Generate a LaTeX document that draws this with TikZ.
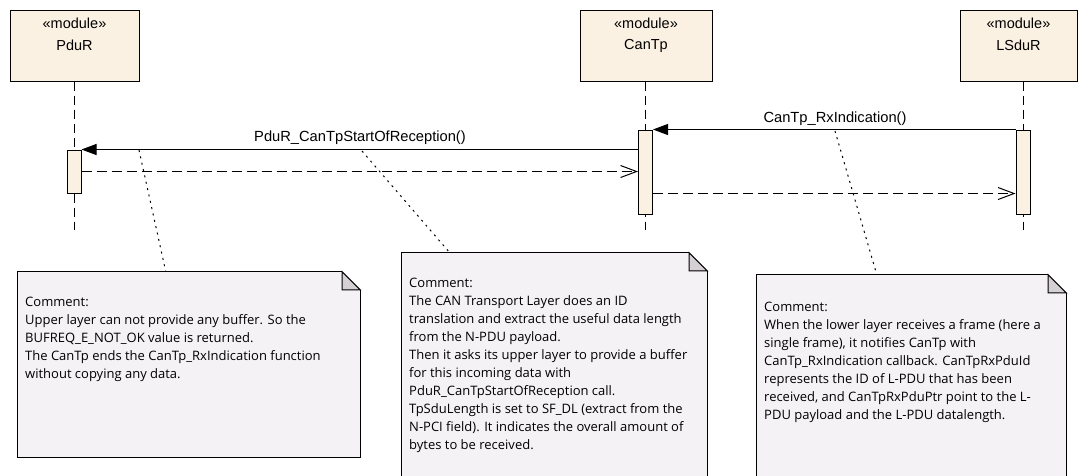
\documentclass[tikz,border=0pt]{standalone}
\usepackage{fontspec}
\setmainfont{Liberation Sans}
\newfontfamily\notefont{Open Sans}
\usetikzlibrary{arrows.meta,calc}
\definecolor{modfill}{RGB}{251,241,227}
\definecolor{notefill}{RGB}{245,242,245}
\definecolor{foldfill}{RGB}{212,208,212}
\tikzset{
  modbox/.style={draw=black,line width=1pt,fill=modfill,minimum width=#1,minimum height=71pt,inner sep=0pt},
  modlabel/.style={font=\fontsize{14.5}{16}\selectfont,inner sep=0pt},
  actbox/.style={draw=black,line width=1pt,fill=modfill,minimum width=14pt,minimum height=#1,inner sep=0pt},
  lifeline/.style={line width=1pt,dash pattern=on 9pt off 5pt},
  callmsg/.style={line width=1pt,-{Triangle[length=15pt,width=11pt]}},
  retmsg/.style={line width=1pt,dash pattern=on 10pt off 5pt,-{Straight Barb[length=16pt,width=12pt]}},
  msglabel/.style={font=\fontsize{14.7}{16}\selectfont,inner sep=0pt},
  notelink/.style={line width=1pt,dash pattern=on 2pt off 4.5pt},
  noteline/.style={line width=1pt},
  notearea/.style={minimum width=#1,inner sep=0pt},
  notetext/.style={font=\notefont\fontsize{13}{18}\selectfont,align=left,inner sep=0pt,anchor=north west}
}
\begin{document}
\begin{tikzpicture}[x=1pt,y=-1pt]
\useasboundingbox (0,0) rectangle (1078,475);
\fill[white] (0,0) rectangle (1078,475);
\clip (0,0) rectangle (1078,475);

% modules
\node[modbox=129pt] (pdur) at (74.5,45.5) {};
\node[modbox=132pt] (cantp) at (646,45.5) {};
\node[modbox=117pt] (lsdur) at (1018.5,45.5) {};
\node[modlabel] (pdurS) at (74.5,23.5) {«module»};
\node[modlabel] (pdurN) at (74.5,45.7) {PduR};
\node[modlabel] (cantpS) at (646,23.5) {«module»};
\node[modlabel] (cantpN) at (646,45.7) {CanTp};
\node[modlabel] (lsdurS) at (1018.5,23.5) {«module»};
\node[modlabel] (lsdurN) at (1018.5,45.7) {LSduR};

% lifeline ends
\coordinate (pdurE) at (74,230);
\coordinate (cantpE) at (645,230);
\coordinate (lsdurE) at (1023,230);
\draw[lifeline] (pdur.south -| pdurE) -- (pdurE);
\draw[lifeline] (cantp.south -| cantpE) -- (cantpE);
\draw[lifeline] (lsdur.south -| lsdurE) -- (lsdurE);

% activations
\node[actbox=43pt] (actP) at (74,171.5) {};
\node[actbox=84pt] (actC) at (645.5,172) {};
\node[actbox=84pt] (actL) at (1023,172) {};

% messages
\draw[callmsg] (actC.west |- actP.north) -- (actP.north east);
\node[msglabel] (m1) at (360,137.5) {PduR\_CanTpStartOfReception()};
\draw[retmsg] (actP.east) -- (actC.west |- actP.east);
\draw[callmsg] (actL.north west) -- (actC.north east);
\node[msglabel] (m2) at (835,118.5) {CanTp\_RxIndication()};
\draw[retmsg] (actC.east |- actP.south) -- (actL.west |- actP.south);

% notes
\node[notearea=342pt,minimum height=185pt] (n1) at (189,364.5) {};
\node[notearea=305pt,minimum height=240pt] (n2) at (554.5,373) {};
\node[notearea=309pt,minimum height=220pt] (n3) at (911.5,385) {};

\fill[notefill] (n1.north west) -- ($(n1.north east)+(-18,0)$) -- ($(n1.north east)+(0,18)$) -- (n1.south east) -- (n1.south west) -- cycle;
\draw[noteline] ($(n1.north east)+(-18,0)$) -- (n1.north west) -- (n1.south west) -- (n1.south east) -- ($(n1.north east)+(0,18)$);
\filldraw[noteline,fill=foldfill] ($(n1.north east)+(-18,0)$) -- ($(n1.north east)+(0,18)$) -- ($(n1.north east)+(-18,18)$) -- cycle;

\fill[notefill] (n2.north west) -- ($(n2.north east)+(-18,0)$) -- ($(n2.north east)+(0,18)$) -- (n2.south east) -- (n2.south west) -- cycle;
\draw[noteline] ($(n2.north east)+(-18,0)$) -- (n2.north west) -- (n2.south west) -- (n2.south east) -- ($(n2.north east)+(0,18)$);
\filldraw[noteline,fill=foldfill] ($(n2.north east)+(-18,0)$) -- ($(n2.north east)+(0,18)$) -- ($(n2.north east)+(-18,18)$) -- cycle;

\fill[notefill] (n3.north west) -- ($(n3.north east)+(-18,0)$) -- ($(n3.north east)+(0,18)$) -- (n3.south east) -- (n3.south west) -- cycle;
\draw[noteline] ($(n3.north east)+(-18,0)$) -- (n3.north west) -- (n3.south west) -- (n3.south east) -- ($(n3.north east)+(0,18)$);
\filldraw[noteline,fill=foldfill] ($(n3.north east)+(-18,0)$) -- ($(n3.north east)+(0,18)$) -- ($(n3.north east)+(-18,18)$) -- cycle;

\node[notetext] (t1) at (25,297) {Comment:\\Upper layer can not provide any buffer. So the\\BUFREQ\_E\_NOT\_OK value is returned.\\The CanTp ends the CanTp\_RxIndication function\\without copying any data.};
\node[notetext] (t2) at (409,278) {Comment:\\The CAN Transport Layer does an ID\\translation and extract the useful data length\\from the N-PDU payload.\\Then it asks its upper layer to provide a buffer\\for this incoming data with\\PduR\_CanTpStartOfReception call.\\TpSduLength is set to SF\_DL (extract from the\\N-PCI field). It indicates the overall amount of\\bytes to be received.};
\node[notetext] (t3) at (764,302) {Comment:\\When the lower layer receives a frame (here a\\single frame), it notifies CanTp with\\CanTp\_RxIndication callback. CanTpRxPduId\\represents the ID of L-PDU that has been\\received, and CanTpRxPduPtr point to the L-\\PDU payload and the L-PDU datalength.};

% note links
\coordinate (l1) at (139,150);
\coordinate (l2) at (362,151);
\coordinate (l3) at (835,131);
\draw[notelink] (l1) -- ($(n1.north west)+(148,0)$);
\draw[notelink] (l2) -- ($(n2.north west)+(48,0)$);
\draw[notelink] (l3) -- ($(n3.north west)+(120,0)$);
\end{tikzpicture}
\end{document}
